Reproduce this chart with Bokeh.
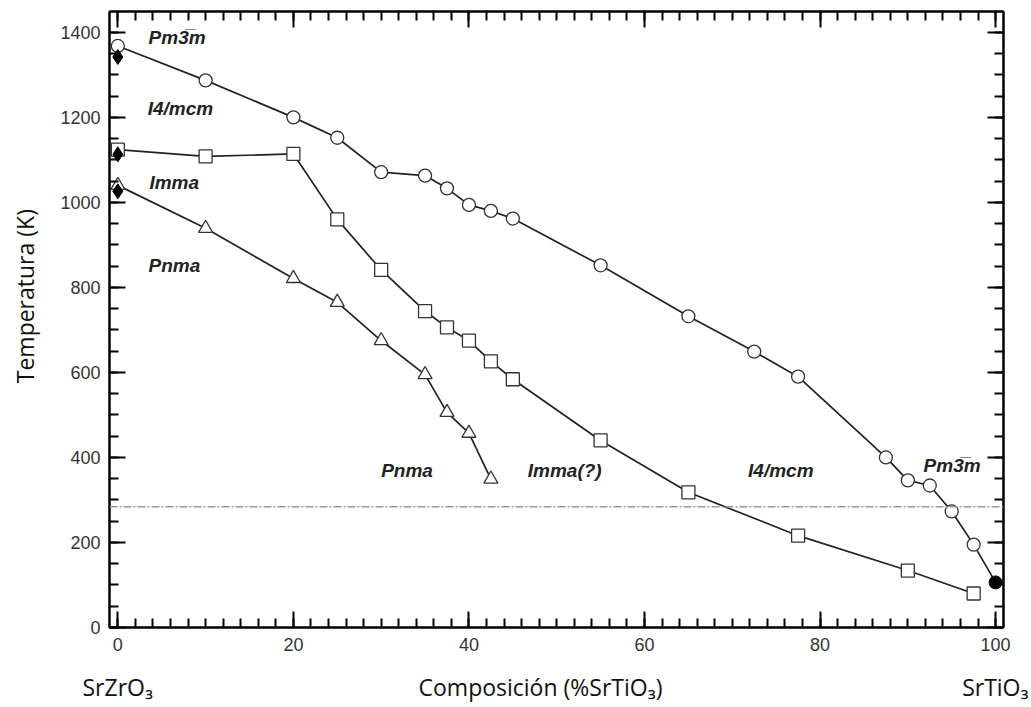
from math import pi
from bokeh.plotting import figure
from bokeh.layouts import row, column
from bokeh.models import Range1d, SingleIntervalTicker, LinearAxis, Span, Label
from bokeh.embed import file_html
from bokeh.resources import INLINE

# ---------------- data ----------------
comp_circle = [0, 10, 20, 25, 30, 35, 37.5, 40, 42.5, 45, 55, 65, 72.5, 77.5, 87.5, 90, 92.5, 95, 97.5, 100]
temp_circle = [1368, 1287, 1200, 1152, 1071, 1063, 1033, 994, 980, 962, 852, 732, 649, 590, 400, 346, 334, 273, 195, 106]

comp_square = [0, 10, 20, 25, 30, 35, 37.5, 40, 42.5, 45, 55, 65, 77.5, 90, 97.5]
temp_square = [1124, 1108, 1114, 960, 841, 744, 706, 675, 626, 584, 440, 318, 216, 134, 80]

comp_tri = [0, 10, 20, 25, 30, 35, 37.5, 40, 42.5]
temp_tri = [1040, 939, 821, 765, 675, 595, 506, 457, 349]

comp_diamond = [0, 0, 0]
temp_diamond = [1342, 1113, 1026]

comp_filled = [100]
temp_filled = [106]

room_temp = 284

phase_names = ["Pm3\u0305m", "I4/mcm", "Imma", "Pnma", "Pnma", "Imma(?)", "I4/mcm", "Pm3\u0305m"]
phase_x = [3.5, 3.4, 3.6, 3.5, 30.0, 46.7, 71.8, 91.8]
phase_y = [1388, 1221, 1047, 852, 369, 369, 369, 381]

left_member = "SrZrO\u2083"
x_label = "Composición (%SrTiO\u2083)"
right_member = "SrTiO\u2083"
y_label = "Temperatura (K)"

x_start, x_end = -0.95, 100.9
y_start, y_end = 0, 1449
x_major, x_minor = 20, 2
y_major, y_minor = 200, 50

# ---------------- layout sizes ----------------
W, H = 1031, 707
STRIP_W = 50          # left strip carrying the y label
TOP_H = 660           # height of the plot row
BOT_H = H - TOP_H     # bottom strip carrying the x label row
MAIN_W = W - STRIP_W


def blank(width, height):
    f = figure(width=width, height=height, x_range=Range1d(0, width), y_range=Range1d(0, height),
               output_backend="svg", toolbar_location=None,
               min_border=0, min_border_left=0, min_border_right=0,
               min_border_top=0, min_border_bottom=0)
    f.axis.visible = False
    f.grid.visible = False
    f.outline_line_color = None
    f.background_fill_color = "white"
    f.border_fill_color = "white"
    return f


lab = dict(text_font="Open Sans", text_font_size="23px", text_color="#111111",
           text_baseline="middle")

# left strip: rotated y label
left = blank(STRIP_W, TOP_H)
left.add_layout(Label(x=24, y=TOP_H - 305, text=y_label, angle=pi / 2,
                      text_align="center", **lab))

# bottom strip: end members and composition label
bottom = blank(W, BOT_H)
bottom.add_layout(Label(x=82, y=BOT_H - 26, text=left_member, text_align="left", **lab))
bottom.add_layout(Label(x=540, y=BOT_H - 26, text=x_label, text_align="center", **lab))
bottom.add_layout(Label(x=1028, y=BOT_H - 26, text=right_member, text_align="right", **lab))

# ---------------- main chart ----------------
p = figure(width=MAIN_W, height=TOP_H,
           x_range=Range1d(x_start, x_end), y_range=Range1d(y_start, y_end),
           output_backend="svg", toolbar_location=None,
           min_border_left=109 - STRIP_W, min_border_right=28,
           min_border_top=11, min_border_bottom=33)
p.background_fill_color = "white"
p.border_fill_color = "white"
p.grid.visible = False
p.outline_line_color = "black"
p.outline_line_width = 2

xt = SingleIntervalTicker(interval=x_major, num_minor_ticks=x_major // x_minor)
yt = SingleIntervalTicker(interval=y_major, num_minor_ticks=y_major // y_minor)


def style_axis(ax, labels=True):
    ax.axis_line_color = "black"
    ax.axis_line_width = 2
    ax.major_tick_in = 16
    ax.major_tick_out = 0
    ax.minor_tick_in = 9
    ax.minor_tick_out = 0
    ax.major_tick_line_color = "black"
    ax.major_tick_line_width = 2
    ax.minor_tick_line_color = "black"
    ax.minor_tick_line_width = 2
    if labels:
        ax.major_label_text_font = "Liberation Sans"
        ax.major_label_text_font_size = "18px"
        ax.major_label_text_color = "#333333"
    else:
        ax.major_label_text_font_size = "0px"
        ax.major_label_standoff = 0


p.xaxis.ticker = xt
p.yaxis.ticker = yt
style_axis(p.xaxis[0])
style_axis(p.yaxis[0])
p.xaxis.major_label_standoff = 10
p.yaxis.major_label_standoff = 9

# mirrored inward ticks on the top and right frame edges
top_axis = LinearAxis(ticker=xt)
right_axis = LinearAxis(ticker=yt)
style_axis(top_axis, labels=False)
style_axis(right_axis, labels=False)
p.add_layout(top_axis, "above")
p.add_layout(right_axis, "right")

# room temperature line
p.add_layout(Span(location=room_temp, dimension="width", line_color="#999999",
                  line_width=1.5, line_dash="8 2 2 2"))

line_col = "#222222"
p.line(comp_circle, temp_circle, line_color=line_col, line_width=1.7)
p.line(comp_square, temp_square, line_color=line_col, line_width=1.7)
p.line(comp_tri, temp_tri, line_color=line_col, line_width=1.7)

p.scatter(comp_circle[:-1], temp_circle[:-1], marker="circle", size=13,
          fill_color="white", line_color="#333333", line_width=1.3)
p.scatter(comp_square, temp_square, marker="square", size=13,
          fill_color="white", line_color="#333333", line_width=1.3)
p.scatter(comp_tri, temp_tri, marker="triangle", size=14,
          fill_color="white", line_color="#333333", line_width=1.3)
p.scatter(comp_diamond, temp_diamond, marker="diamond", size=15,
          fill_color="black", line_color="black")
p.scatter(comp_filled, temp_filled, marker="circle", size=13,
          fill_color="black", line_color="black")

for name, x, y in zip(phase_names, phase_x, phase_y):
    p.add_layout(Label(x=x, y=y, text=name, text_font="Liberation Sans",
                       text_font_style="bold italic", text_font_size="19px",
                       text_color="#222222", text_baseline="middle", text_align="left"))

layout = column(row(left, p, spacing=0), bottom, spacing=0)
open("out.html", "w").write(file_html(layout, INLINE))
